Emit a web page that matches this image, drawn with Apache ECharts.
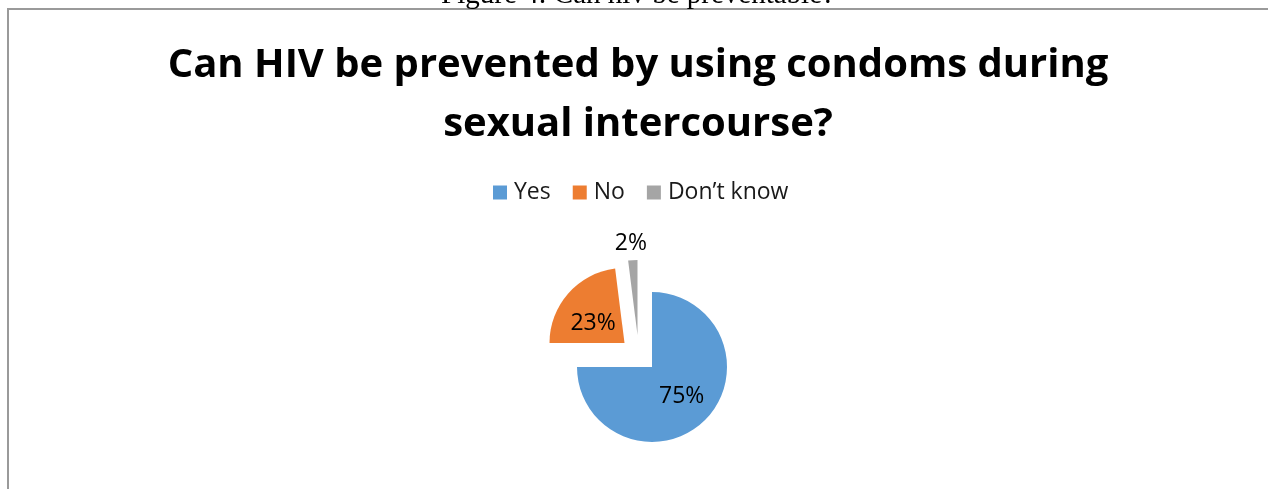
<!DOCTYPE html>
<html>
<head>
<meta charset="utf-8">
<script src="https://cdn.jsdelivr.net/npm/echarts@6/dist/echarts.min.js"></script>
<style>
  html, body { margin: 0; padding: 0; background: #ffffff; }
  #chart { width: 1268px; height: 489px; }
</style>
</head>
<body>
<div id="chart"></div>
<script>
// Survey answers
const categories = ['Yes', 'No', 'Don\u2019t know'];
const values = [75, 23, 2];

// Slice colours and explosion shifts (px) for each answer
const sliceColors = ['#5B9BD5', '#ED7D31', '#A5A5A5'];
const explodeShift = [[0, 0], [-27.5, -24], [-14.5, -32]];
const labelShift = [[1, 1], [-1, 7], [-4, -51]];

const pieCenter = [652, 367];
const pieRadius = 75;
const FONT = '"Open Sans", "Noto Sans", sans-serif';

const chart = echarts.init(document.getElementById('chart'), null, { renderer: 'canvas' });

// One pie per answer so each slice can be pulled out on its own;
// every pie shares the full data so the angles stay the same.
const pies = categories.map((cat, i) => ({
  type: 'pie',
  name: cat,
  silent: true,
  animation: false,
  center: [pieCenter[0] + explodeShift[i][0], pieCenter[1] + explodeShift[i][1]],
  radius: pieRadius,
  startAngle: 90,
  clockwise: true,
  avoidLabelOverlap: false,
  percentPrecision: 0,
  labelLine: { show: false },
  emphasis: { disabled: true },
  label: {
    show: true,
    position: 'inside',
    formatter: '{d}%',
    color: '#000000',
    fontFamily: FONT,
    fontSize: 23
  },
  data: categories.map((name, j) => ({
    name: name,
    value: values[j],
    itemStyle: { color: j === i ? sliceColors[j] : 'rgba(0,0,0,0)' },
    label: j === i ? { show: true, offset: labelShift[j] } : { show: false }
  }))
}));

chart.setOption({
  backgroundColor: '#ffffff',
  title: {
    text: 'Can HIV be prevented by using condoms during\nsexual intercourse?',
    left: 633,
    top: 31,
    textAlign: 'center',
    textStyle: {
      fontFamily: FONT,
      fontWeight: 'bold',
      fontSize: 40,
      lineHeight: 59,
      color: '#000000'
    }
  },
  legend: {
    left: 493,
    top: 181,
    padding: 0,
    itemWidth: 14,
    itemHeight: 14,
    itemGap: 22,
    icon: 'rect',
    selectedMode: false,
    data: categories.map((c, i) => ({ name: c, itemStyle: { color: sliceColors[i] } })),
    textStyle: { fontFamily: FONT, fontSize: 23, color: '#1a1a1a', padding: [0, 0, 0, 2] }
  },
  graphic: [
    {
      type: 'rect',
      silent: true,
      shape: { x: 8, y: 9, width: 1400, height: 700 },
      style: { fill: 'none', stroke: '#9a9a9a', lineWidth: 2 }
    },
    {
      type: 'text',
      silent: true,
      x: 638,
      y: 10,
      style: {
        text: 'Figure 4: Can hiv be preventable?',
        font: '29px "Liberation Serif", "DejaVu Serif", serif',
        fill: '#000000',
        align: 'center',
        verticalAlign: 'bottom'
      }
    }
  ],
  series: pies
});
</script>
</body>
</html>
